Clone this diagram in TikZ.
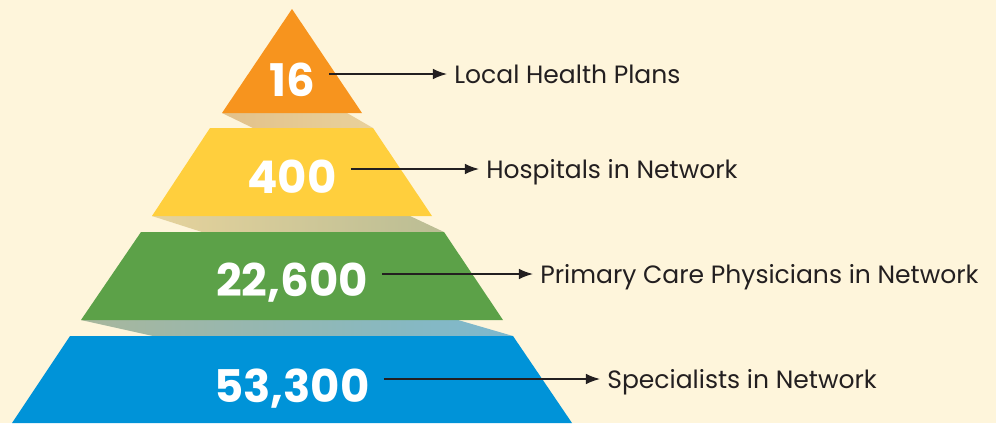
\documentclass[tikz,border=0pt]{standalone}
\usepackage{fontspec}
\setmainfont{Poppins}
\newfontfamily\numfont{Poppins}
\usetikzlibrary{arrows.meta}
\definecolor{cream}{HTML}{FEF5DB}
\definecolor{lvlorange}{HTML}{F7941E}
\definecolor{lvlyellow}{HTML}{FFCF3D}
\definecolor{lvlgreen}{HTML}{5CA148}
\definecolor{lvlblue}{HTML}{0093D8}
\definecolor{shadeA}{HTML}{E2C18A}
\definecolor{shadeB}{HTML}{E9D19B}
\definecolor{shadeC}{HTML}{E6D39C}
\definecolor{shadeD}{HTML}{BABD94}
\definecolor{shadeE}{HTML}{A8B79C}
\definecolor{shadeF}{HTML}{7CB8CE}
\definecolor{ink}{HTML}{231F20}
\tikzstyle{num}=[font=\numfont\bfseries\fontsize{32}{32}\selectfont, text=white, inner sep=0pt, inner xsep=10pt, text depth=0pt]
\tikzstyle{lbl}=[font=\fontsize{17.8}{17.8}\selectfont, text=ink, anchor=west, inner sep=0pt, inner xsep=5pt, text height=12.8pt, text depth=0pt]
\tikzstyle{link}=[draw=ink, line width=1pt, -{Latex[length=10pt,width=7.5pt]}]

\begin{document}
\begin{tikzpicture}[x=0.025cm,y=-0.025cm]
\fill[cream] (0,0) rectangle (996,423);
% shadows between the levels
\shade[left color=shadeA, right color=shadeB]
   (222,113) -- (347,113) -- (373,128) -- (253,128) -- cycle;
\shade[left color=shadeC, right color=shadeD]
   (152,216) -- (410,216) -- (444,232) -- (202,232) -- cycle;
\shade[left color=shadeE, right color=shadeF]
   (81,320) -- (458,320) -- (513,336) -- (153,336) -- cycle;
% levels
\fill[lvlorange] (292,9) -- (362,113) -- (222,113) -- cycle;
\fill[lvlyellow] (210,128) -- (373,128) -- (432,216) -- (152,216) -- cycle;
\fill[lvlgreen] (141,232) -- (444,232) -- (503,320) -- (81,320) -- cycle;
\fill[lvlblue] (70,336) -- (513,336) -- (572,423) -- (12,423) -- cycle;

\node[num] (plansNum) at (292,80) {16};
\node[num] (hospNum) at (292,177) {400};
\node[num] (pcpNum) at (292,280) {22,600};
\node[num] (specNum) at (292,386) {53,300};

\node[lbl] (plans) at (447,74) {Local Health Plans};
\node[lbl] (hosp) at (479,169) {Hospitals in Network};
\node[lbl] (pcp) at (533,274) {Primary Care Physicians in Network};
\node[lbl] (spec) at (600,379) {Specialists in Network};

\draw[link] (plansNum.east |- plans.west) -- (plans.west);
\draw[link] (hospNum.east |- hosp.west) -- (hosp.west);
\draw[link] (pcpNum.east |- pcp.west) -- (pcp.west);
\draw[link] (specNum.east |- spec.west) -- (spec.west);
\end{tikzpicture}
\end{document}
